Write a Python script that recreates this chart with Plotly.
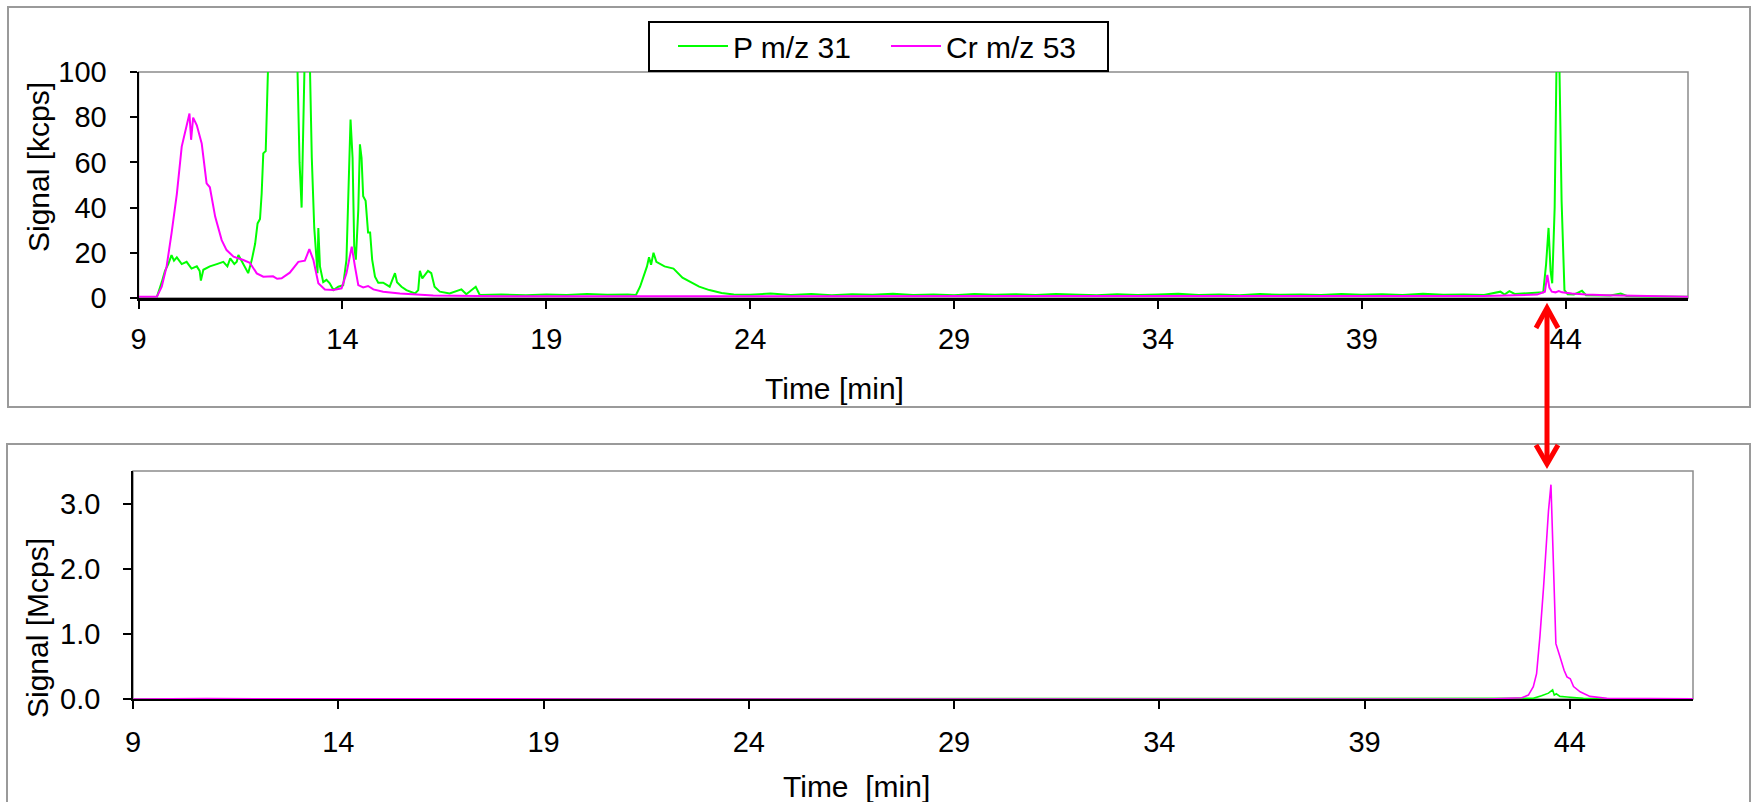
import plotly.graph_objects as go

# ---------------- data ----------------
# Top panel, signal in kcps
p_top_time = [9.0, 9.45, 9.57, 9.65, 9.73, 9.81, 9.87, 9.94, 10.06, 10.18, 10.3, 10.43, 10.5, 10.53,
              10.59, 10.75, 10.92, 11.08, 11.18, 11.25, 11.35, 11.41, 11.45, 11.57, 11.69, 11.78,
              11.86, 11.92, 11.98, 12.02, 12.06, 12.12, 12.16, 12.22, 12.5, 12.8, 12.9, 12.95, 13.0,
              13.05, 13.08, 13.15, 13.19, 13.25, 13.31, 13.36, 13.39, 13.41, 13.45, 13.53, 13.61,
              13.69, 13.78, 13.9, 14.02, 14.1, 14.17, 14.2, 14.25, 14.29, 14.33, 14.39, 14.43, 14.47,
              14.51, 14.57, 14.63, 14.68, 14.73, 14.8, 14.88, 15.0, 15.16, 15.29, 15.34, 15.45, 15.57,
              15.78, 15.86, 15.9, 15.96, 16.1, 16.18, 16.26, 16.39, 16.63, 16.92, 17.04, 17.27, 17.37,
              17.9, 18.5, 19.0, 19.5, 20.0, 20.5, 21.0, 21.2, 21.3, 21.47, 21.52, 21.57, 21.63, 21.7,
              21.9, 22.12, 22.34, 22.56, 22.75, 23.0, 23.3, 23.6, 24.0, 24.5, 25.0, 25.5, 26.0, 26.5,
              27.0, 27.5, 28.0, 28.5, 29.0, 29.5, 30.0, 30.5, 31.0, 31.5, 32.0, 32.5, 33.0, 33.5, 34.0,
              34.5, 35.0, 35.5, 36.0, 36.5, 37.0, 37.5, 38.0, 38.5, 39.0, 39.5, 40.0, 40.5, 41.0, 41.5,
              42.0, 42.4, 42.5, 42.62, 42.75, 43.0, 43.3, 43.45, 43.52, 43.58, 43.63, 43.67, 43.73,
              43.78, 43.84, 43.9, 43.97, 44.05, 44.2, 44.4, 44.5, 44.8, 45.1, 45.35, 45.5, 46.0, 46.5,
              47.0]
p_top_kcps = [0.4, 0.4, 7, 12, 15, 19, 16.5, 18, 15, 16, 13, 14, 12, 7.7,
              12.5, 14, 15, 16, 14, 17.5, 15, 16, 19, 15, 11, 17,
              24, 33, 35, 46, 64, 65, 100, 130, 160, 130, 100, 60, 40,
              80, 110, 150, 120, 62, 31, 17, 11, 31, 14, 7, 8,
              6.5, 3.5, 5, 5.7, 17, 62, 79, 62, 23, 17, 39, 68, 62,
              45, 43, 29, 29, 17, 9.4, 6.8, 6.8, 5, 11, 7, 5, 3.5,
              2, 3.5, 12, 8.7, 12, 11, 5, 2.8, 2, 3.8, 1.7, 5, 1.3,
              1.5, 1.2, 1.6, 1.3, 1.8, 1.4, 1.5, 1.3, 5, 14, 18, 14.7, 20, 16,
              14, 13, 9, 7, 5, 3.5, 2.2, 1.6, 1.4, 2.0, 1.3, 1.8, 1.2, 1.7,
              1.4, 1.9, 1.3, 1.6, 1.2, 1.8, 1.4, 1.7, 1.3, 1.8, 1.4, 1.2, 1.7, 1.3, 1.5,
              1.9, 1.3, 1.6, 1.2, 1.8, 1.4, 1.6, 1.3, 1.8, 1.4, 1.7, 1.3, 1.9, 1.4, 1.6,
              1.3, 2.8, 1.5, 3.0, 1.8, 2.0, 2.2, 2.5, 15, 31, 12, 6.5, 40,
              110, 110, 43, 3.5, 1.6, 1.5, 3.2, 1.2, 1.0, 1.1, 2.0, 0.9, 0.7, 0.6,
              0.5]

cr_top_time = [9.0, 9.45, 9.57, 9.69, 9.81, 9.94, 10.06, 10.2, 10.25, 10.29, 10.34, 10.43, 10.55,
               10.67, 10.75, 10.88, 11.04, 11.16, 11.33, 11.57, 11.73, 11.9, 12.06, 12.3, 12.4,
               12.51, 12.6, 12.71, 12.92, 13.08, 13.19, 13.29, 13.41, 13.57, 13.78, 13.98, 14.1,
               14.23, 14.31, 14.39, 14.51, 14.63, 14.76, 15.0, 15.41, 16.23, 17.86, 20.0, 25.0,
               30.0, 35.0, 40.0, 42.0, 43.3, 43.49, 43.55, 43.6, 43.66, 43.75, 43.83, 43.91, 44.15,
               44.5, 45.0, 45.5, 46.0, 47.0]
cr_top_kcps = [0.5, 0.5, 5, 14, 28.6, 46, 67, 78.6, 81.6, 70, 79.8, 76.4, 68.4,
               50.7, 49, 36, 25.6, 21.2, 18.3, 16.8, 15.6, 10.9, 9.4, 9.6, 8.5,
               8.7, 10, 11.2, 16, 16.5, 21.6, 16.8, 6.5, 3.8, 3.5, 4.3, 10.9,
               22.7, 13.8, 5.7, 4.7, 5.3, 3.8, 2.8, 2.0, 1.1, 0.8, 0.8, 0.7,
               0.7, 0.7, 0.7, 0.9, 1.5, 2.8, 10.2, 4.6, 2.8, 2.5, 3.1, 2.5, 2.0,
               1.5, 1.2, 1.0, 0.8, 0.5]

# Bottom panel, signal in Mcps
p_bot_time = [9.0, 42.8, 43.11, 43.31, 43.48, 43.58, 43.62, 43.67, 43.76, 43.93, 44.33, 45.0, 47.0]
p_bot_mcps = [0.0, 0.002, 0.01, 0.05, 0.09, 0.14, 0.06, 0.08, 0.04, 0.03, 0.01, 0.003, 0.001]

cr_bot_time = [9.0, 9.5, 9.7, 10.2, 10.8, 12.0, 14.0, 20.0, 42.0, 42.46, 42.83, 42.99, 43.11,
               43.19, 43.27, 43.36, 43.42, 43.48, 43.54, 43.6, 43.66, 43.76, 43.86, 43.93, 44.01,
               44.09, 44.25, 44.49, 44.9, 47.0]
cr_bot_mcps = [0.0, 0.002, 0.01, 0.012, 0.006, 0.003, 0.002, 0.001, 0.001, 0.01, 0.02, 0.06, 0.19,
               0.39, 0.95, 1.72, 2.33, 2.89, 3.29, 2.18, 0.85, 0.65, 0.44, 0.34, 0.31,
               0.19, 0.11, 0.04, 0.01, 0.002]

series_names = ["P m/z 31", "Cr m/z 53"]
x_ticks = [9, 14, 19, 24, 29, 34, 39, 44]
top_y_ticks = [0, 20, 40, 60, 80, 100]
bot_y_ticks = [0.0, 1.0, 2.0, 3.0]

# ---------------- styling ----------------
W, H = 1756, 802
GREEN = "#00FF00"
MAGENTA = "#FF00FF"
FONT = "Arial, 'Liberation Sans', sans-serif"
GRAY = "#9a9a9a"


def px(x):
    return x / W


def py(y):
    return 1 - y / H


fig = go.Figure()
fig.add_trace(go.Scatter(x=p_top_time, y=p_top_kcps, mode="lines", name=series_names[0],
                         line=dict(color=GREEN, width=2), xaxis="x", yaxis="y"))
fig.add_trace(go.Scatter(x=cr_top_time, y=cr_top_kcps, mode="lines", name=series_names[1],
                         line=dict(color=MAGENTA, width=2), xaxis="x", yaxis="y"))
fig.add_trace(go.Scatter(x=p_bot_time, y=p_bot_mcps, mode="lines", name=series_names[0],
                         showlegend=False, line=dict(color=GREEN, width=1.6), xaxis="x2", yaxis="y2"))
fig.add_trace(go.Scatter(x=cr_bot_time, y=cr_bot_mcps, mode="lines", name=series_names[1],
                         showlegend=False, line=dict(color=MAGENTA, width=1.6), xaxis="x2", yaxis="y2"))

axis_common = dict(showgrid=False, zeroline=False, showline=True, linecolor="black",
                   ticks="outside", tickcolor="black", tickwidth=1.5, automargin=False,
                   tickfont=dict(family=FONT, size=29, color="black"))

fig.update_layout(
    width=W, height=H,
    margin=dict(l=0, r=0, t=0, b=0, pad=0, autoexpand=False),
    paper_bgcolor="white", plot_bgcolor="white",
    font=dict(family=FONT, color="black"),
    xaxis=dict(domain=[px(138.5), px(1688)], range=[9, 47], tickvals=x_ticks, ticklen=8,
               linewidth=2.5, anchor="y", ticklabelstandoff=5, **axis_common),
    yaxis=dict(domain=[py(298), py(72)], range=[0, 100], tickvals=top_y_ticks, ticklen=7,
               linewidth=2, anchor="x", ticklabelstandoff=17, **axis_common),
    xaxis2=dict(domain=[px(133), px(1693)], range=[9, 47], tickvals=x_ticks, ticklen=8,
                linewidth=1.5, anchor="y2", ticklabelstandoff=8, **axis_common),
    yaxis2=dict(domain=[py(699), py(471)], range=[0, 3.5], tickvals=bot_y_ticks, tickformat=".1f",
                ticklen=8, linewidth=1.5, anchor="x2", ticklabelstandoff=17, **axis_common),
    legend=dict(orientation="h", x=px(673), y=py(46), xanchor="left", yanchor="middle",
                bgcolor="rgba(0,0,0,0)", borderwidth=0,
                font=dict(family=FONT, size=30, color="black"),
                itemwidth=50, entrywidth=148, entrywidthmode="pixels"),
    showlegend=True,
)

shapes = []
# outer chart frames
shapes.append(dict(type="rect", xref="paper", yref="paper", x0=px(8), x1=px(1750), y0=py(407), y1=py(7),
                   line=dict(color=GRAY, width=2), layer="below"))
shapes.append(dict(type="rect", xref="paper", yref="paper", x0=px(7), x1=px(1750), y0=py(812), y1=py(444),
                   line=dict(color=GRAY, width=2), layer="below"))
# plot-area borders
shapes.append(dict(type="rect", xref="paper", yref="paper", x0=px(138.5), x1=px(1688), y0=py(298), y1=py(72),
                   line=dict(color="#8c8c8c", width=1.5), layer="below"))
shapes.append(dict(type="rect", xref="paper", yref="paper", x0=px(133), x1=px(1693), y0=py(699), y1=py(471),
                   line=dict(color="#8c8c8c", width=1.5), layer="below"))
# legend frame
shapes.append(dict(type="rect", xref="paper", yref="paper", x0=px(649), x1=px(1108), y0=py(71), y1=py(22),
                   line=dict(color="black", width=2), fillcolor="white", layer="below"))
# red double arrow between panels
AX = 1547
shapes.append(dict(type="line", xref="paper", yref="paper", x0=px(AX), x1=px(AX), y0=py(310), y1=py(462),
                   line=dict(color="red", width=5)))
shapes.append(dict(type="path", xref="paper", yref="paper",
                   path=f"M {px(AX-11)},{py(328)} L {px(AX)},{py(308)} L {px(AX+11)},{py(328)}",
                   line=dict(color="red", width=5)))
shapes.append(dict(type="path", xref="paper", yref="paper",
                   path=f"M {px(AX-11)},{py(445)} L {px(AX)},{py(464)} L {px(AX+11)},{py(445)}",
                   line=dict(color="red", width=5)))
fig.update_layout(shapes=shapes)

title_font = dict(family=FONT, size=30, color="black")
annotations = [
    dict(text="Signal [kcps]", x=px(39), y=py(167), xref="paper", yref="paper", textangle=-90,
         showarrow=False, font=title_font, xanchor="center", yanchor="middle"),
    dict(text="Time [min]", x=px(834), y=py(388), xref="paper", yref="paper",
         showarrow=False, font=title_font, xanchor="center", yanchor="middle"),
    dict(text="Signal [Mcps]", x=px(37), y=py(628), xref="paper", yref="paper", textangle=-90,
         showarrow=False, font=title_font, xanchor="center", yanchor="middle"),
    dict(text="Time\u00a0 [min]", x=px(856), y=py(786), xref="paper", yref="paper",
         showarrow=False, font=title_font, xanchor="center", yanchor="middle"),
]
fig.update_layout(annotations=annotations)

fig.write_html("out.html",
               post_script="document.body.style.margin='0';document.body.style.padding='0';")
